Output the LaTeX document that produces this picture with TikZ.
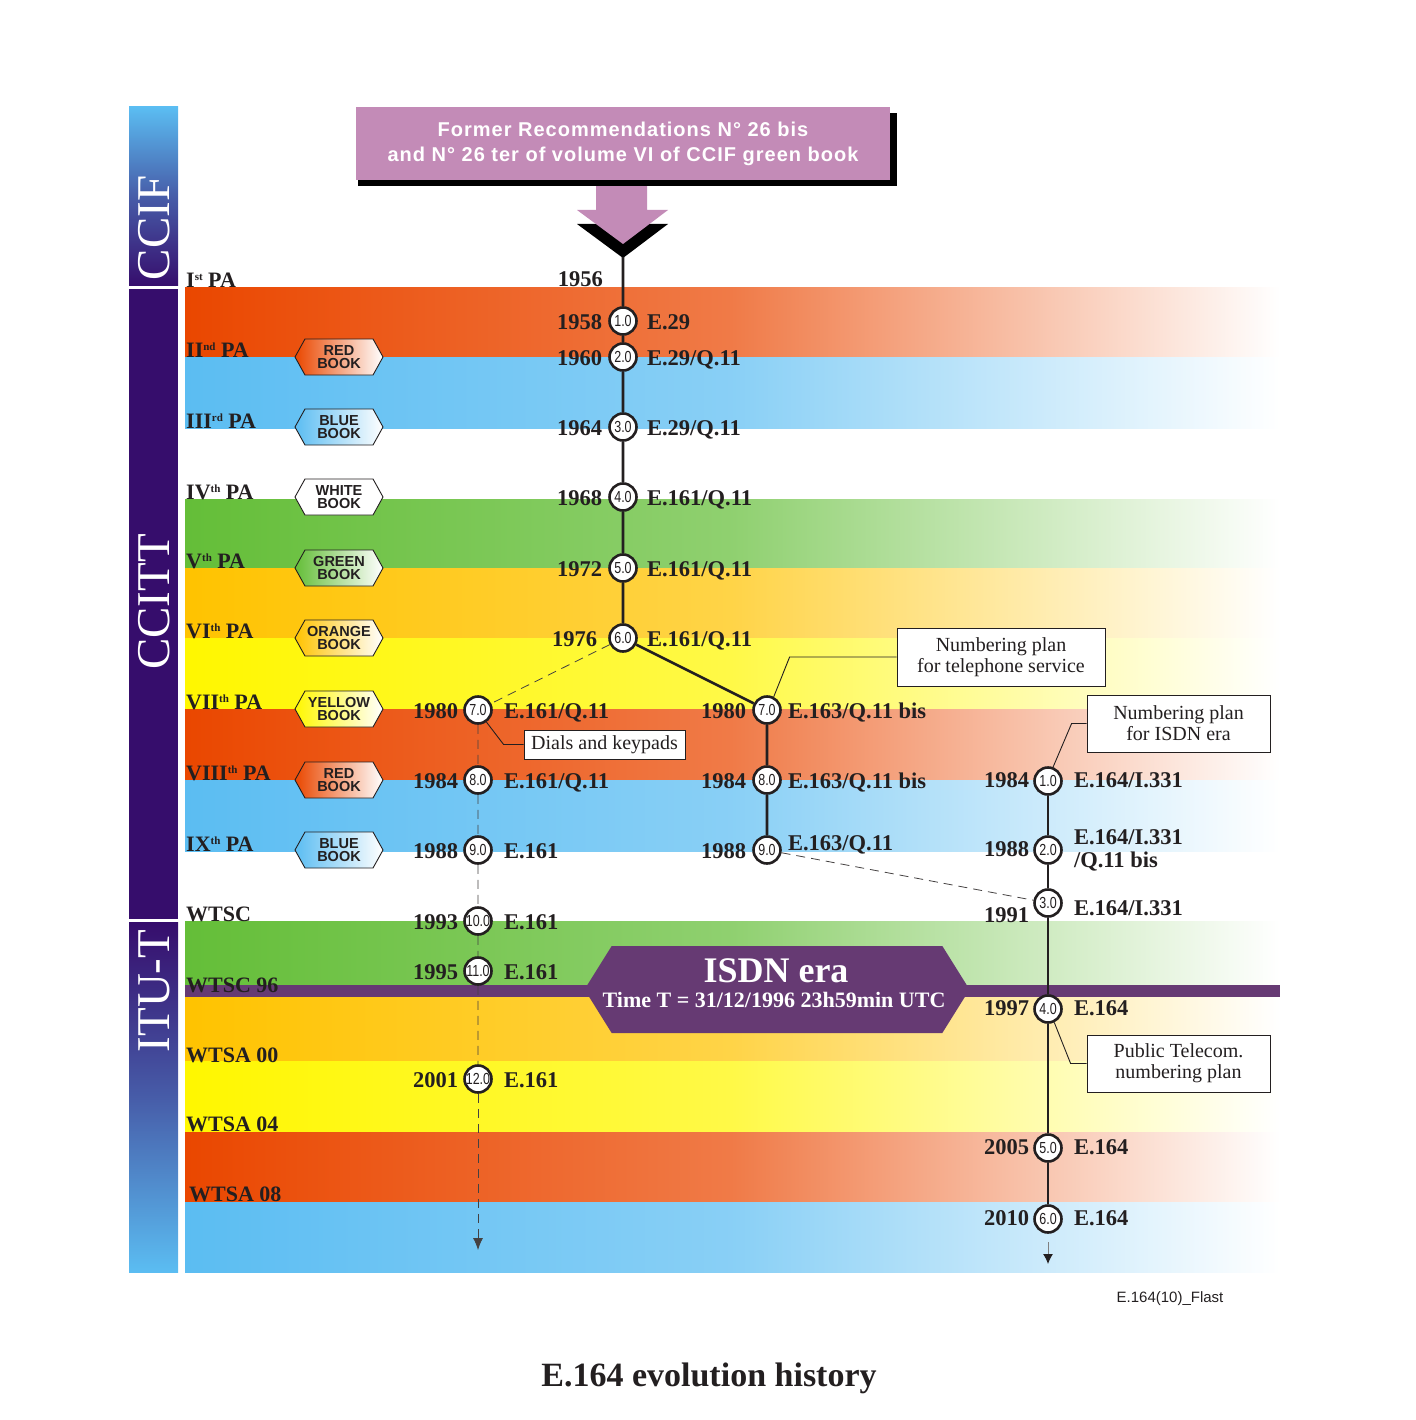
\documentclass[tikz,border=0pt]{standalone}
\usepackage{fontspec}
\setmainfont{Liberation Serif}
\newfontfamily\arialfont{Liberation Sans}
\newfontfamily\boxfont{Liberation Sans}[LetterSpace=5]
\newfontfamily\verfont{Liberation Sans}[FakeStretch=0.78]
\usetikzlibrary{positioning,shapes.symbols,arrows.meta}
\definecolor{ink}{HTML}{231F20}
\definecolor{pRed}{HTML}{EA4700}
\definecolor{pBlue}{HTML}{5BBDF2}
\definecolor{pGreen}{HTML}{64BE38}
\definecolor{pOrange}{HTML}{FFC300}
\definecolor{pYellow}{HTML}{FFF700}
\definecolor{pIsdn}{HTML}{663A73}
\definecolor{pMauve}{HTML}{C38BB7}
\definecolor{pNavy}{HTML}{360D6C}
\newcommand\yrfont{\bfseries\fontsize{22.5}{23}\selectfont}
\newcommand\ordsup[1]{\raisebox{7pt}{\fontsize{11}{11}\selectfont #1}}
\tikzset{
    band/.style={left color=#1, right color=white, middle color=#1!72!white},
    ver/.style={circle, draw=ink, line width=2.6pt, fill=white, minimum size=27pt, inner sep=0pt, font=\verfont\fontsize{16}{16}\selectfont},
    yr/.style={font=\yrfont, inner sep=0pt, anchor=base east, xshift=-#1, yshift=-8pt},
    yr/.default=5pt,
    rec/.style={font=\yrfont, inner sep=0pt, anchor=base west, xshift=#1, yshift=-8pt},
    rec/.default=9pt,
    pa/.style={font=\bfseries\fontsize{22}{23}\selectfont, inner sep=0pt, anchor=base west},
    book/.style={signal, signal to=east and west, signal pointer angle=122, draw=ink, line width=0.9pt, minimum width=88pt, minimum height=36pt, inner sep=0pt, align=center, font=\arialfont\bfseries\fontsize{14.5}{12.7}\selectfont},
    note/.style={draw=ink, line width=0.8pt, fill=white, align=center, inner sep=0pt, font=\fontsize{20}{21}\selectfont},
    tl/.style={draw=ink, line width=2.6pt},
    dashln/.style={draw=ink!85, line width=0.8pt, dash pattern=on 9pt off 6pt},
    callout/.style={draw=ink, line width=0.9pt},
    org/.style={text=white, font=\fontsize{47}{47}\selectfont, rotate=90}
}

\begin{document}
\begin{tikzpicture}[x=1pt,y=-1pt,color=ink]
\useasboundingbox (0,0) rectangle (1415,1420);
% coloured study periods
\foreach \c/\ya/\yb in {pRed/288/357, pBlue/357/428, pGreen/499/568, pOrange/568/638, pYellow/638/709,
    pRed/709/780, pBlue/780/851, pGreen/921/985, pOrange/997/1061, pYellow/1061/1132, pRed/1132/1202, pBlue/1202/1272}
    \shade[band=\c] (185,\ya) rectangle (1280,\yb);
\fill[pIsdn] (185,985) rectangle (1280,997);
% organisations
\shade[top color=pBlue, bottom color=pNavy, middle color=pBlue!45!pNavy] (129,107) rectangle (178,286);
\fill[pNavy] (129,289) rectangle (178,919);
\shade[top color=pNavy, bottom color=pBlue, middle color=pBlue!45!pNavy] (129,922) rectangle (178,1272);
\node[org] (ccif) at (154,228) {CCIF};
\node[org] (ccitt) at (154,602) {CCITT};
\node[org] (itut) at (154,991) {ITU-T};
% former recommendations
\fill[black] (577,224) -- (668,224) -- (623,258) -- cycle;
\fill[pMauve] (596,180) -- (647,180) -- (647,210) -- (668,210) -- (623,244) -- (577,210) -- (596,210) -- cycle;
\fill[black] (358,113) rectangle (897,186);
\node[fill=pMauve, minimum width=534pt, minimum height=73pt, text=white, align=center,
    font=\boxfont\bfseries\fontsize{20}{25}\selectfont] (former) at (623,143.5)
    {Former Recommendations N° 26 bis\\and N° 26 ter of volume VI of CCIF green book};
\coordinate (tip) at (623,257);
% plenary assemblies
\node[pa] (pa1) at (186,288) {I\ordsup{st} PA};
\node[pa] (pa2) at (186,357) {II\ordsup{nd} PA};
\node[pa] (pa3) at (186,428) {III\ordsup{rd} PA};
\node[pa] (pa4) at (186,499) {IV\ordsup{th} PA};
\node[pa] (pa5) at (186,568) {V\ordsup{th} PA};
\node[pa] (pa6) at (186,638) {VI\ordsup{th} PA};
\node[pa] (pa7) at (186,709) {VII\ordsup{th} PA};
\node[pa] (pa8) at (186,780) {VIII\ordsup{th} PA};
\node[pa] (pa9) at (186,851) {IX\ordsup{th} PA};
\node[pa] (wtsc) at (186,921) {WTSC};
\node[pa] (wtsc96) at (186,992) {WTSC 96};
\node[pa] (wtsa00) at (186,1062) {WTSA 00};
\node[pa] (wtsa04) at (186,1131) {WTSA 04};
\node[pa] (wtsa08) at (189,1201) {WTSA 08};
% books
\node[book, left color=pRed, right color=white] (bk2) at (339,357) {RED\\BOOK};
\node[book, left color=pBlue, right color=white] (bk3) at (339,427) {BLUE\\BOOK};
\node[book, fill=white] (bk4) at (339,497) {WHITE\\BOOK};
\node[book, left color=pGreen, right color=white] (bk5) at (339,568) {GREEN\\BOOK};
\node[book, left color=pOrange, right color=white] (bk6) at (339,638) {ORANGE\\BOOK};
\node[book, left color=pYellow, right color=white] (bk7) at (339,709) {YELLOW\\BOOK};
\node[book, left color=pRed, right color=white] (bk8) at (339,780) {RED\\BOOK};
\node[book, left color=pBlue, right color=white] (bk9) at (339,850) {BLUE\\BOOK};
% ISDN era
\node[signal, signal to=east and west, signal pointer angle=116, fill=pIsdn, minimum width=385pt, minimum height=87pt, inner sep=0pt] (isdn) at (777,989.5) {};
\node[text=white, font=\bfseries\fontsize{36}{36}\selectfont, anchor=base] (isdnt) at (776,982) {ISDN era};
\node[text=white, font=\bfseries\fontsize{22}{22}\selectfont, anchor=base] (isdntime) at (774,1007) {Time T = 31/12/1996 23h59min UTC};
% main line
\node[yr=0pt] (ym0) at (603,279) {1956};
\node[ver] (m1) at (623,321) {1.0};
\node[ver] (m2) at (623,357) {2.0};
\node[ver] (m3) at (623,427) {3.0};
\node[ver] (m4) at (623,497) {4.0};
\node[ver] (m5) at (623,568) {5.0};
\node[ver] (m6) at (623,638) {6.0};
\node[yr=6pt] (ym1) at (m1.west) {1958};
\node[yr=6pt] (ym2) at (m2.west) {1960};
\node[yr=6pt] (ym3) at (m3.west) {1964};
\node[yr=6pt] (ym4) at (m4.west) {1968};
\node[yr=6pt] (ym5) at (m5.west) {1972};
\node[yr=11pt] (ym6) at (m6.west) {1976};
\node[rec] (em1) at (m1.east) {E.29};
\node[rec] (em2) at (m2.east) {E.29/Q.11};
\node[rec] (em3) at (m3.east) {E.29/Q.11};
\node[rec] (em4) at (m4.east) {E.161/Q.11};
\node[rec] (em5) at (m5.east) {E.161/Q.11};
\node[rec] (em6) at (m6.east) {E.161/Q.11};
% E.161 branch
\node[ver] (d7) at (478,710) {7.0};
\node[ver] (d8) at (478,780) {8.0};
\node[ver] (d9) at (478,850) {9.0};
\node[ver] (d10) at (478,921) {10.0};
\node[ver] (d11) at (478,971) {11.0};
\node[ver] (d12) at (478,1079) {12.0};
\coordinate (dend) at (478,1250);
\node[yr] (yd7) at (d7.west) {1980};
\node[yr] (yd8) at (d8.west) {1984};
\node[yr] (yd9) at (d9.west) {1988};
\node[yr] (yd10) at (d10.west) {1993};
\node[yr] (yd11) at (d11.west) {1995};
\node[yr] (yd12) at (d12.west) {2001};
\node[rec=11pt] (ed7) at (d7.east) {E.161/Q.11};
\node[rec=11pt] (ed8) at (d8.east) {E.161/Q.11};
\node[rec=11pt] (ed9) at (d9.east) {E.161};
\node[rec=11pt] (ed10) at (d10.east) {E.161};
\node[rec=11pt] (ed11) at (d11.east) {E.161};
\node[rec=11pt] (ed12) at (d12.east) {E.161};
% E.163 branch
\node[ver] (t7) at (767,710) {7.0};
\node[ver] (t8) at (767,780) {8.0};
\node[ver] (t9) at (767,850) {9.0};
\node[yr=6pt] (yt7) at (t7.west) {1980};
\node[yr=6pt] (yt8) at (t8.west) {1984};
\node[yr=6pt] (yt9) at (t9.west) {1988};
\node[rec=6pt] (et7) at (t7.east) {E.163/Q.11 bis};
\node[rec=6pt] (et8) at (t8.east) {E.163/Q.11 bis};
\node[rec=6pt, yshift=8pt] (et9) at (t9.east) {E.163/Q.11};
% E.164 branch
\node[ver] (i1) at (1048,781) {1.0};
\node[ver] (i2) at (1048,850) {2.0};
\node[ver] (i3) at (1048,903) {3.0};
\node[ver] (i4) at (1048,1009) {4.0};
\node[ver] (i5) at (1048,1148) {5.0};
\node[ver] (i6) at (1048,1219) {6.0};
\coordinate (iarr) at (1048,1242);
\coordinate (iend) at (1048,1264);
\node[yr=4pt, yshift=2pt] (yi1) at (i1.west) {1984};
\node[yr=4pt, yshift=2pt] (yi2) at (i2.west) {1988};
\node[yr=4pt, yshift=-11pt] (yi3) at (i3.west) {1991};
\node[yr=4pt, yshift=2pt] (yi4) at (i4.west) {1997};
\node[yr=4pt, yshift=2pt] (yi5) at (i5.west) {2005};
\node[yr=4pt, yshift=2pt] (yi6) at (i6.west) {2010};
\node[rec=11pt, yshift=2pt] (ei1) at (i1.east) {E.164/I.331};
\node[rec=11pt, yshift=8pt, anchor=west, align=left] (ei2) at (i2.east) {E.164/I.331\\/Q.11 bis};
\node[rec=11pt, yshift=-4pt] (ei3) at (i3.east) {E.164/I.331};
\node[rec=11pt, yshift=2pt] (ei4) at (i4.east) {E.164};
\node[rec=11pt, yshift=2pt] (ei5) at (i5.east) {E.164};
\node[rec=11pt, yshift=2pt] (ei6) at (i6.east) {E.164};
% connectors
\draw[tl] (tip) -- (m1) -- (m2) -- (m3) -- (m4) -- (m5) -- (m6) -- (t7) -- (t8) -- (t9);
\draw[tl] (i1) -- (i2) -- (i3) -- (i4) -- (i5) -- (i6);
\draw[dashln] (m6) -- (d7) -- (d8) -- (d9) -- (d10) -- (d11) -- (d12);
\draw[dashln, -{Latex[length=12pt,width=10pt]}] (d12) -- (dend);
\draw[dashln] (t9) -- (i3);
\draw[gray, line width=1pt, -{Latex[length=10pt,width=10pt,color=ink]}] (iarr) -- (iend);
% notes
\node[note, minimum width=208pt, minimum height=58pt] (tel) at (1001,657) {Numbering plan\\for telephone service};
\node[note, minimum width=183pt, minimum height=57pt] (isdnnote) at (1178.5,723.5) {Numbering plan\\for ISDN era};
\node[note, minimum width=161pt, minimum height=29pt] (dials) at (604.5,744.5) {Dials and keypads};
\node[note, minimum width=183pt, minimum height=57pt] (pub) at (1178.5,1063.5) {Public Telecom.\\numbering plan};
\draw[callout] (tel.west) -- ++(-107,0) -- (t7.63);
\draw[callout] (isdnnote.west) -- ++(-15,0) -- (i1.70);
\draw[callout] (dials.west) -- ++(-20,0) -- (d7.-55);
\draw[callout] (pub.west) -- ++(-16,0) -- (i4.-65);
% caption
\node[font=\arialfont\fontsize{15}{15}\selectfont] (figid) at (1170,1299) {E.164(10)\_Flast};
\node[font=\bfseries\fontsize{34}{34}\selectfont] (title) at (709,1378) {E.164 evolution history};
\end{tikzpicture}
\end{document}
